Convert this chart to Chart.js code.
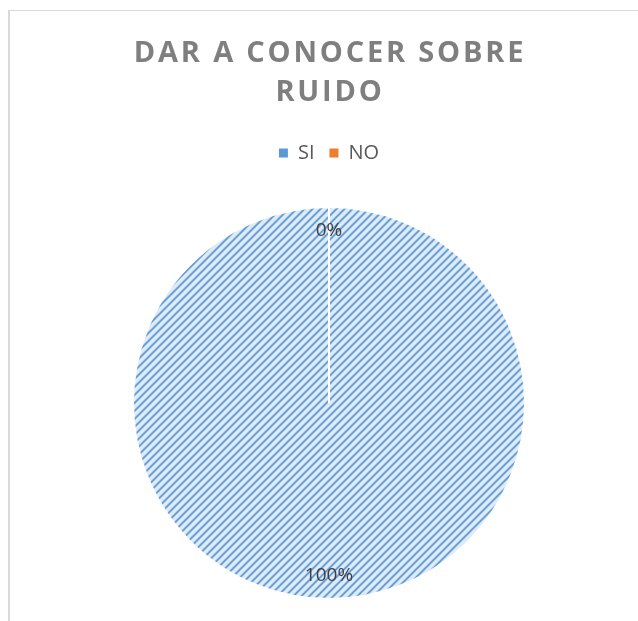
<!DOCTYPE html>
<html>
<head>
<meta charset="utf-8">
<script src="https://cdn.jsdelivr.net/npm/chart.js@4/dist/chart.umd.min.js"></script>
<style>
  html, body { margin: 0; padding: 0; background: #fff; }
  #wrap { position: relative; width: 638px; height: 621px; }
  #frame { position: absolute; left: 8px; top: 10px; right: 0; bottom: 0; border-top: 1px solid #d9d9d9; border-left: 2px solid #d9d9d9; }
  canvas { position: absolute; left: 0; top: 0; }
</style>
</head>
<body>
<div id="wrap">
  <div id="frame"></div>
  <canvas id="chart" width="638" height="621"></canvas>
</div>
<script>
// ========== DATA ==========
const titleLines = ['DAR A CONOCER SOBRE', 'RUIDO'];
const categories = ['SI', 'NO'];
const values = [100, 0];
const percentLabels = ['100%', '0%'];

// ========== HATCH PATTERN ==========
function makeHatch(bg, dark, mid) {
    const c = document.createElement('canvas');
    c.width = 8;
    c.height = 8;
    const g = c.getContext('2d');
    g.fillStyle = bg;
    g.fillRect(0, 0, 8, 8);
    for (let y = 0; y < 8; y++) {
        for (let x = 0; x < 8; x++) {
            const k = (x + y) % 8;
            if (k === 0 || k === 1) { g.fillStyle = dark; g.fillRect(x, y, 1, 1); }
            if (k === 2 || k === 7) { g.fillStyle = mid; g.fillRect(x, y, 1, 1); }
        }
    }
    return g.createPattern(c, 'repeat');
}

const ctx = document.getElementById('chart').getContext('2d');
const siPattern = makeHatch('#dfeaf7', '#649fd8', '#b0cdee');
const noPattern = makeHatch('#fbe0cf', '#ed7d31', '#f5b98f');

// ========== TITLE LETTER SPACING + LEGEND GAP ==========
const layoutTweaks = {
    id: 'layoutTweaks',
    beforeLayout(chart) {
        const lg = chart.legend;
        if (lg && !lg._tweaked) {
            const fit = lg.fit.bind(lg);
            lg.fit = function () {
                fit();
                this.height += 31;
            };
            lg._tweaked = true;
        }
    },
    afterLayout(chart) {
        const tb = chart.titleBlock;
        if (!tb || tb._spaced) return;
        const orig = tb.draw.bind(tb);
        tb.draw = function () {
            const c = this.ctx;
            c.save();
            c.letterSpacing = '2.8px';
            c.translate(1, 0);
            orig();
            c.restore();
        };
        tb._spaced = true;
    }
};

// ========== PERCENT LABELS ==========
const pctLabels = {
    id: 'pctLabels',
    afterDatasetsDraw(chart) {
        const c = chart.ctx;
        const arcs = chart.getDatasetMeta(0).data;
        c.save();
        c.font = '19px "Open Sans"';
        c.fillStyle = '#404040';
        c.textAlign = 'center';
        c.textBaseline = 'middle';
        arcs.forEach((arc, i) => {
            const p = arc.getProps(['x', 'y', 'startAngle', 'endAngle', 'outerRadius'], true);
            const mid = (p.startAngle + p.endAngle) / 2;
            const r = p.outerRadius * 0.88;
            c.fillText(percentLabels[i], p.x + Math.cos(mid) * r, p.y + Math.sin(mid) * r);
        });
        c.restore();
    }
};

new Chart(ctx, {
    type: 'pie',
    data: {
        labels: categories,
        datasets: [{
            data: values,
            backgroundColor: [siPattern, noPattern],
            borderColor: '#ffffff',
            borderWidth: 2,
            radius: 196
        }]
    },
    options: {
        responsive: false,
        animation: false,
        events: [],
        layout: { padding: { left: 20, right: 0, top: 0, bottom: 19 } },
        plugins: {
            title: {
                display: true,
                text: titleLines,
                color: '#7f7f7f',
                font: { family: '"Open Sans"', size: 29, weight: 'bold', lineHeight: 39 / 29 },
                padding: { top: 34, bottom: 16 }
            },
            legend: {
                display: true,
                position: 'top',
                labels: {
                    color: '#595959',
                    font: { family: '"Open Sans"', size: 20 },
                    boxWidth: 9,
                    boxHeight: 9,
                    padding: 15,
                    generateLabels(chart) {
                        const cols = ['#5b9bd5', '#ed7d31'];
                        return categories.map((name, i) => ({
                            text: name,
                            fillStyle: cols[i],
                            strokeStyle: cols[i],
                            lineWidth: 0,
                            fontColor: '#595959',
                            hidden: false,
                            index: i
                        }));
                    }
                }
            },
            tooltip: { enabled: false }
        }
    },
    plugins: [layoutTweaks, pctLabels]
});
</script>
</body>
</html>
